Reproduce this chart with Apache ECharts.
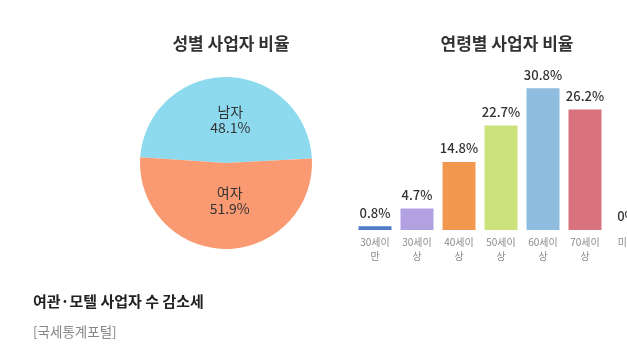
<!DOCTYPE html>
<html>
<head>
<meta charset="utf-8">
<script src="https://cdn.jsdelivr.net/npm/echarts@6/dist/echarts.min.js"></script>
<style>
    html, body { margin: 0; padding: 0; background: #fff; }
    #chart { width: 627px; height: 355px; }
</style>
</head>
<body>
<div id="chart"></div>
<script>
// 성별 데이터
var genderNames = ['남자', '여자'];
var genderValues = [48.1, 51.9];
var genderColors = ['#8ddaef', '#fa9a72'];

// 연령별 데이터
var ageNames = ['30세이\n만', '30세이\n상', '40세이\n상', '50세이\n상', '60세이\n상', '70세이\n상', '미상'];
var ageValues = [0.8, 4.7, 14.8, 22.7, 30.8, 26.2, 0];
var ageColors = ['#4f7cc2', '#b2a1e0', '#f2994f', '#cce27c', '#8fbde0', '#d8737d', '#999999'];

var font = '"Noto Sans CJK KR", "Noto Sans", sans-serif';
var myChart = echarts.init(document.getElementById('chart'));

myChart.setOption({
    animation: false,
    textStyle: { fontFamily: font },
    title: [
        { text: '성별 사업자 비율', left: 226, top: 30, textAlign: 'center',
          textStyle: { fontSize: 17, fontWeight: 'bold', color: '#333', fontFamily: font } },
        { text: '연령별 사업자 비율', left: 502, top: 30, textAlign: 'center',
          textStyle: { fontSize: 17, fontWeight: 'bold', color: '#333', fontFamily: font } },
        { text: '여관·모텔 사업자 수 감소세', left: 28, top: 289,
          textStyle: { fontSize: 15, fontWeight: 'bold', color: '#222', fontFamily: font } },
        { text: '[국세통계포털]', left: 28, top: 320,
          textStyle: { fontSize: 13.5, fontWeight: 'normal', color: '#888', fontFamily: font } }
    ],
    grid: { left: 354, top: 46, width: 294, height: 184, outerBoundsMode: 'none', containLabel: false },
    xAxis: {
        type: 'category',
        data: ageNames,
        axisLine: { show: false },
        axisTick: { show: false },
        axisLabel: { color: '#8a8a8a', fontSize: 10, lineHeight: 14, margin: 5, interval: 0 }
    },
    yAxis: {
        type: 'value',
        min: 0,
        max: 40,
        show: false,
        splitLine: { show: false }
    },
    series: [
        {
            type: 'pie',
            center: [226, 163],
            radius: 86,
            startAngle: 176.2,
            clockwise: true,
            label: {
                position: 'inside',
                color: '#333',
                fontSize: 14,
                lineHeight: 16,
                formatter: function (p) { return p.name + '\n' + p.value + '%'; }
            },
            labelLine: { show: false },
            itemStyle: { borderColor: '#fff', borderWidth: 0 },
            data: genderNames.map(function (n, i) {
                return {
                    name: n, value: genderValues[i],
                    itemStyle: { color: genderColors[i] },
                    label: { offset: i === 0 ? [4, 3] : [4, -8] }
                };
            })
        },
        {
            type: 'bar',
            barWidth: 33,
            label: {
                show: true,
                position: 'top',
                distance: 7,
                color: '#333',
                fontSize: 13,
                fontWeight: 500,
                formatter: function (p) { return p.value + '%'; }
            },
            data: ageValues.map(function (v, i) {
                return { value: v, itemStyle: { color: ageColors[i] } };
            })
        }
    ]
});
</script>
</body>
</html>
